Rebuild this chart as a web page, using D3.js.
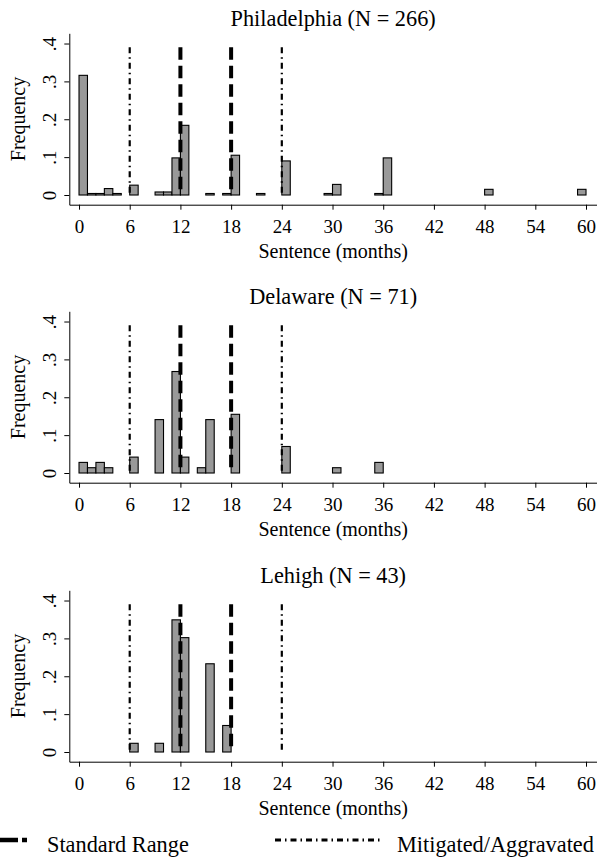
<!DOCTYPE html>
<html>
<head>
<meta charset="utf-8">
<script src="https://cdn.jsdelivr.net/npm/d3@7"></script>
<style>
  body { margin: 0; background: #fff; }
  svg { display: block; font-family: "Liberation Serif", "Times New Roman", serif; }
</style>
</head>
<body>
<div id="chart"></div>
<script>
  const w = 597;
  const h = 857;

  // data: bin start (months, 1-month bins) and fraction
  const titles = ['Philadelphia (N = 266)', 'Delaware (N = 71)', 'Lehigh (N = 43)'];

  const phillyBins = [0, 1, 2, 3, 4, 6, 9, 10, 11, 12, 15, 17, 18, 21, 24, 29, 30, 35, 36, 48, 59];
  const phillyFreq = [0.316, 0.004, 0.004, 0.017, 0.004, 0.026, 0.008, 0.008, 0.098, 0.184, 0.004,
                      0.004, 0.105, 0.004, 0.090, 0.004, 0.028, 0.004, 0.098, 0.015, 0.015];

  const delawareBins = [0, 1, 2, 3, 6, 9, 11, 12, 14, 15, 18, 24, 30, 35];
  const delawareFreq = [0.028, 0.014, 0.028, 0.014, 0.042, 0.141, 0.268, 0.042, 0.014, 0.141, 0.155, 0.070, 0.014, 0.028];

  const lehighBins = [6, 9, 11, 12, 15, 17];
  const lehighFreq = [0.023, 0.023, 0.349, 0.302, 0.233, 0.070];

  const xTicks = [0, 6, 12, 18, 24, 30, 36, 42, 48, 54, 60];
  const yTicks = [0, 0.1, 0.2, 0.3, 0.4];
  const yTickLabels = ['0', '.1', '.2', '.3', '.4'];

  const standardRange = [12, 18];
  const mitigatedRange = [6, 24];
  const refLineTop = 0.39;

  const legendLabels = ['Standard Range', 'Mitigated/Aggravated'];

  const panels = [
    {title: titles[0], bins: phillyBins, freq: phillyFreq},
    {title: titles[1], bins: delawareBins, freq: delawareFreq},
    {title: titles[2], bins: lehighBins, freq: lehighFreq}
  ];
  const panelOffsets = [0, 278, 557];

  const x = d3.scaleLinear().domain([-1.15, 61.3]).range([69.3, 597]);
  const y = d3.scaleLinear().domain([-0.0256, 0.427]).range([204.7, 33.3]);

  const standardDash = '12.5 6';
  const mitigatedDash = '6 4 1.5 4';

  const svg = d3.select('#chart')
    .append('svg')
      .attr('width', w)
      .attr('height', h);

  svg.append('rect').attr('width', w).attr('height', h).attr('fill', '#fff');

  panels.forEach((p, pi) => {
    const g = svg.append('g')
      .attr('transform', 'translate(0,' + panelOffsets[pi] + ')');

    // title
    g.append('text')
      .attr('x', (x.range()[0] + x.range()[1]) / 2)
      .attr('y', 26)
      .attr('text-anchor', 'middle')
      .style('font-size', '22.3px')
      .text(p.title);

    // bars
    g.append('g').selectAll('rect')
      .data(p.bins.map((b, i) => ({bin: b, f: p.freq[i]})))
    .enter().append('rect')
      .attr('x', d => x(d.bin))
      .attr('y', d => y(d.f))
      .attr('width', d => x(d.bin + 1) - x(d.bin))
      .attr('height', d => y(0) - y(d.f))
      .attr('fill', '#999')
      .attr('stroke', '#000')
      .attr('stroke-width', 1.1);

    // reference lines, drawn over the bars
    g.append('g').selectAll('line')
      .data(standardRange)
    .enter().append('line')
      .attr('x1', d => x(d)).attr('x2', d => x(d))
      .attr('y1', y(refLineTop)).attr('y2', y(0))
      .attr('stroke', '#000')
      .attr('stroke-width', 4)
      .attr('stroke-dasharray', standardDash);

    g.append('g').selectAll('line')
      .data(mitigatedRange)
    .enter().append('line')
      .attr('x1', d => x(d)).attr('x2', d => x(d))
      .attr('y1', y(refLineTop)).attr('y2', y(0))
      .attr('stroke', '#000')
      .attr('stroke-width', 2.2)
      .attr('stroke-dasharray', mitigatedDash);

    // x axis
    const xAxis = g.append('g')
      .attr('transform', 'translate(0,' + y.range()[0] + ')')
      .call(d3.axisBottom(x).tickValues(xTicks).tickSize(5).tickSizeOuter(0).tickPadding(10)
        .tickFormat(d3.format('d')));
    xAxis.selectAll('text')
      .style('font-family', '"Liberation Serif", serif')
      .style('font-size', '19px')
      .attr('fill', '#000');

    g.append('text')
      .attr('x', (x.range()[0] + x.range()[1]) / 2)
      .attr('y', 258)
      .attr('text-anchor', 'middle')
      .style('font-size', '20px')
      .text('Sentence (months)');

    // y axis
    const yAxis = g.append('g')
      .attr('transform', 'translate(' + x.range()[0] + ',0)')
      .call(d3.axisLeft(y).tickValues(yTicks).tickSize(5).tickSizeOuter(0)
        .tickFormat((d, i) => yTickLabels[i]));
    yAxis.selectAll('.tick text')
      .attr('x', null).attr('dy', null)
      .attr('text-anchor', 'middle')
      .attr('transform', 'translate(-13,0) rotate(-90)')
      .style('font-family', '"Liberation Serif", serif')
      .style('font-size', '19px')
      .attr('fill', '#000');

    g.append('text')
      .attr('transform', 'translate(25,' + (y.range()[0] + y.range()[1]) / 2 + ') rotate(-90)')
      .attr('text-anchor', 'middle')
      .style('font-size', '20px')
      .text('Frequency');

    g.selectAll('.domain, .tick line').attr('stroke', '#000').attr('stroke-width', 1);
  });

  // legend
  const legend = svg.append('g');
  legend.append('line')
    .attr('x1', 0).attr('x2', 27)
    .attr('y1', 840).attr('y2', 840)
    .attr('stroke', '#000').attr('stroke-width', 4.5)
    .attr('stroke-dasharray', '18 4');
  legend.append('text')
    .attr('x', 47).attr('y', 851.5)
    .style('font-size', '22.3px')
    .text(legendLabels[0]);

  legend.append('line')
    .attr('x1', 275).attr('x2', 383)
    .attr('y1', 840).attr('y2', 840)
    .attr('stroke', '#000').attr('stroke-width', 2.8)
    .attr('stroke-dasharray', mitigatedDash);
  legend.append('text')
    .attr('x', 397).attr('y', 851.5)
    .style('font-size', '22.3px')
    .text(legendLabels[1]);
</script>
</body>
</html>
